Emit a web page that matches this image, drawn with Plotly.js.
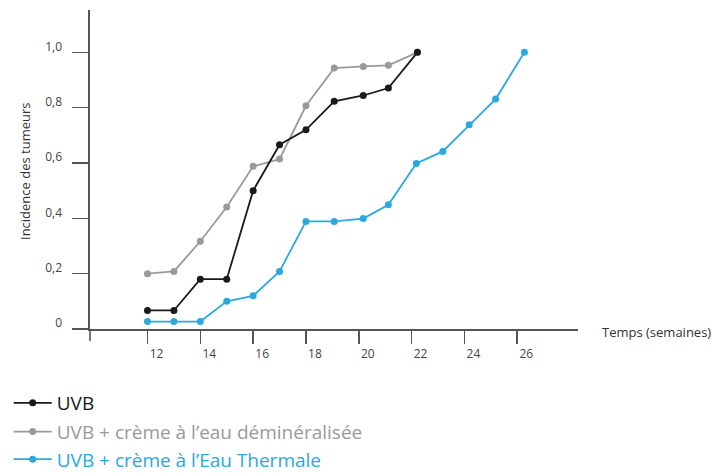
<!DOCTYPE html>
<html>
<head>
<meta charset="utf-8">
<script src="https://cdn.plot.ly/plotly-3.0.1.min.js"></script>
<style>html,body{margin:0;padding:0;background:#fff;}#chart{width:712px;height:474px;}</style>
</head>
<body>
<div id="chart"></div>
<script>
// Data
const weeksUVB = [12, 13, 14, 15, 16, 17, 18, 19.07, 20.17, 21.12, 22.22];
const uvb = [0.067, 0.067, 0.18, 0.18, 0.50, 0.666, 0.72, 0.823, 0.844, 0.871, 1.0];

const weeksDemin = [12, 13, 14, 15, 16, 17, 18, 19.07, 20.17, 21.12, 22.22];
const demin = [0.20, 0.208, 0.317, 0.441, 0.588, 0.614, 0.807, 0.943, 0.949, 0.953, 1.0];

const weeksThermale = [12, 13, 14, 15, 16, 17, 18, 19.07, 20.17, 21.12, 22.18, 23.18, 24.18, 25.18, 26.27];
const thermale = [0.027, 0.027, 0.027, 0.10, 0.12, 0.208, 0.389, 0.389, 0.399, 0.449, 0.598, 0.642, 0.738, 0.831, 1.0];

const xTickVals = [12, 14, 16, 18, 20, 22, 24, 26];
const xTickText = ['12', '14', '16', '18', '20', '22', '24', '26'];
const yTickVals = [0, 0.2, 0.4, 0.6, 0.8, 1.0];
const yTickText = ['0', '0,2', '0,4', '0,6', '0,8', '1,0'];

const names = ['UVB', 'UVB + crème à l’eau déminéralisée', 'UVB + crème à l’Eau Thermale'];
const colors = ['#1a1a1a', '#9a9a9a', '#2aa9e0'];
const yTitle = 'Incidence des tumeurs';
const xTitle = 'Temps (semaines)';

const FONT = '"Open Sans", Lato, "DejaVu Sans", sans-serif';

function trace(x, y, i, legendId) {
  return {
    x: x, y: y, name: names[i], type: 'scatter', mode: 'lines+markers',
    line: {color: colors[i], width: 1.8},
    marker: {color: colors[i], size: 7},
    legend: legendId,
    cliponaxis: false
  };
}

const data = [
  trace(weeksDemin, demin, 1, 'legend2'),
  trace(weeksUVB, uvb, 0, 'legend'),
  trace(weeksThermale, thermale, 2, 'legend3')
];

function legendCfg(yc, col) {
  return {
    xref: 'container', yref: 'container', x: 8.7 / 712, y: yc,
    xanchor: 'left', yanchor: 'middle', bgcolor: 'rgba(0,0,0,0)',
    borderwidth: 0, itemwidth: 38,
    font: {family: FONT, size: 19, color: col}
  };
}

const layout = {
  width: 712, height: 474,
  margin: {l: 90, r: 134, t: 10, b: 145, autoexpand: false},
  paper_bgcolor: '#fff', plot_bgcolor: '#fff',
  font: {family: FONT, color: '#444'},
  showlegend: true,
  legend: legendCfg(1 - 403 / 474, colors[0]),
  legend2: legendCfg(1 - 431.7 / 474, colors[1]),
  legend3: legendCfg(1 - 459.3 / 474, colors[2]),
  xaxis: {
    range: [9.823, 28.30], showgrid: false, zeroline: false,
    showline: true, linecolor: '#555', linewidth: 1.6,
    ticks: 'outside', ticklen: 13, tickwidth: 1.6, tickcolor: '#555',
    tickvals: xTickVals, ticktext: xTickText,
    tickfont: {family: FONT, size: 12, color: '#444'},
    ticklabelshift: 9, ticklabelstandoff: 0
  },
  yaxis: {
    range: [0, 1.153], showgrid: false, zeroline: false,
    showline: true, linecolor: '#555', linewidth: 1.6,
    ticks: 'outside', ticklen: 16, tickwidth: 1.6, tickcolor: '#555',
    tickvals: yTickVals, ticktext: yTickText,
    tickfont: {family: FONT, size: 12, color: '#444'},
    ticklabelshift: -6, ticklabelstandoff: 8
  },
  shapes: [
    {type: 'line', xref: 'paper', yref: 'paper', x0: 0, x1: 0, y0: 0, y1: -12 / 319,
     line: {color: '#555', width: 1.6}},
    {type: 'line', xref: 'paper', yref: 'paper', x0: -7 / 488, x1: 0, y0: 0, y1: 0,
     line: {color: '#555', width: 1.6}}
  ],
  annotations: [
    {text: xTitle, xref: 'paper', yref: 'paper', x: 1.045, y: -3 / 319,
     xanchor: 'left', yanchor: 'middle', showarrow: false,
     font: {family: FONT, size: 13, color: '#333'}},
    {text: yTitle, xref: 'paper', yref: 'paper', x: (25 - 90) / 488, y: (329 - 171) / 319,
     xanchor: 'center', yanchor: 'middle', textangle: -90, showarrow: false,
     font: {family: FONT, size: 13, color: '#333'}}
  ]
};

Plotly.newPlot('chart', data, layout, {displayModeBar: false, staticPlot: true});
</script>
</body>
</html>
